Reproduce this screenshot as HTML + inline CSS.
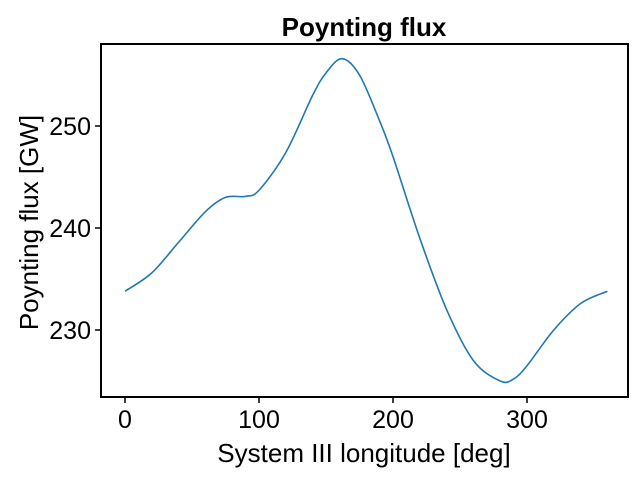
<!DOCTYPE html>
<html><head><meta charset="utf-8"><style>
body{margin:0;background:#fff;font-family:"Liberation Sans",Arial,sans-serif}
svg text{font-family:"Liberation Sans",Arial,sans-serif}
</style></head><body>
<svg id="chart" width="640" height="480" xmlns="http://www.w3.org/2000/svg">
<rect width="640" height="480" fill="#fff"/>
<g id="plot"></g>
</svg>
<script>
const longitudes=[0,20,40,60,75,90,100,120,140,150,162,175,190,200,220,240,260,280,290,300,320,340,360];
const fluxValues=[233.8,235.6,238.6,241.6,243.0,243.1,243.7,247.4,253.0,255.2,256.6,255.0,250.5,247.0,239.0,232.0,227.0,225.0,225.2,226.5,230.0,232.6,233.8];
const xTicks=[0,100,200,300];
const yTicks=[230,240,250];
const L=101,R=628,T=44,B=397;
const xs=v=>125+(v-0)*1.34;
const ys=v=>330-(v-230)*10.2;
const g=document.getElementById('plot');
const NS='http://www.w3.org/2000/svg';
function mk(t,a){const e=document.createElementNS(NS,t);for(const k in a)e.setAttribute(k,a[k]);g.appendChild(e);return e;}
const pts=longitudes.map((v,i)=>[xs(v),ys(fluxValues[i])]);
let d='M'+pts[0][0]+','+pts[0][1];
for(let i=0;i<pts.length-1;i++){const p0=pts[Math.max(0,i-1)],p1=pts[i],p2=pts[i+1],p3=pts[Math.min(pts.length-1,i+2)];
d+=' C'+(p1[0]+(p2[0]-p0[0])/6)+','+(p1[1]+(p2[1]-p0[1])/6)+' '+(p2[0]-(p3[0]-p1[0])/6)+','+(p2[1]-(p3[1]-p1[1])/6)+' '+p2[0]+','+p2[1];}
const line=mk('path',{d:d,fill:'none',stroke:'#1f77b4','stroke-width':1.6});


const frame=mk('rect',{x:L,y:T,width:R-L,height:B-T,fill:'none',stroke:'#000','stroke-width':2});


xTicks.forEach(v=>{const x=xs(v);
const t=mk('line',{x1:x,x2:x,y1:B,y2:B+6,stroke:'#000','stroke-width':1.5});


const l=mk('text',{x:x,y:B+31,'text-anchor':'middle','font-size':25});l.textContent=v;

});
yTicks.forEach(v=>{const y=ys(v);
const t=mk('line',{x1:L-6,x2:L,y1:y,y2:y,stroke:'#000','stroke-width':1.5});


const l=mk('text',{x:L-10,y:y+9,'text-anchor':'end','font-size':25});l.textContent=v;

});
const title=mk('text',{x:364,y:36,'text-anchor':'middle','font-size':26,'font-weight':'bold'});title.textContent='Poynting flux';


const xl=mk('text',{x:364,y:462,'text-anchor':'middle','font-size':26});xl.textContent='System III longitude [deg]';


const yl=mk('text',{x:0,y:0,'text-anchor':'middle','font-size':26,transform:'translate(38,'+((T+B)/2+2)+') rotate(-90)'});yl.textContent='Poynting flux [GW]';


</script>
</body></html>
